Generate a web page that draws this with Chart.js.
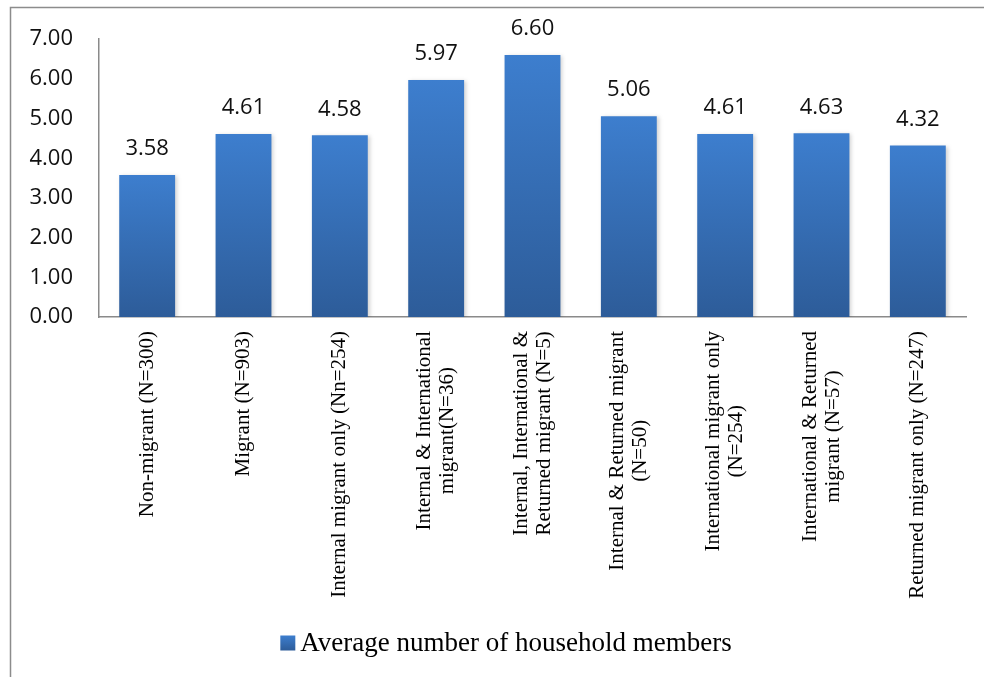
<!DOCTYPE html>
<html>
<head>
<meta charset="utf-8">
<script src="https://cdn.jsdelivr.net/npm/chart.js@4.4.1/dist/chart.umd.min.js"></script>
<style>
  html, body { margin: 0; padding: 0; background: #ffffff; }
  #wrap { width: 984px; height: 677px; }
</style>
</head>
<body>
<div id="wrap"><canvas id="chart" width="984" height="677"></canvas></div>
<script>
// Household size by migration status
const categories = [
  ['Non-migrant (N=300)'],
  ['Migrant (N=903)'],
  ['Internal migrant only (Nn=254)'],
  ['Internal & International', 'migrant(N=36)'],
  ['Internal, International &', 'Returned migrant (N=5)'],
  ['Internal & Returned migrant', '(N=50)'],
  ['International migrant only', '(N=254)'],
  ['International & Returned', 'migrant (N=57)'],
  ['Returned migrant only (N=247)']
];
const averageMembers = [3.58, 4.61, 4.58, 5.97, 6.60, 5.06, 4.61, 4.63, 4.32];
const seriesName = 'Average number of household members';
const yTickValues = [0, 1, 2, 3, 4, 5, 6, 7];

const BAR_TOP = '#3D7ECE';
const BAR_BOTTOM = '#2D5C99';
const AXIS_GREY = '#8A8A8A';

// vertical gradient spanning each bar from its top to the baseline
function barFill(ctx) {
  const chart = ctx.chart;
  const y = chart.scales && chart.scales.y;
  if (!y || ctx.type !== 'data') return BAR_TOP;
  const top = y.getPixelForValue(ctx.raw);
  const base = y.getPixelForValue(0);
  if (!isFinite(top) || !isFinite(base) || top === base) return BAR_TOP;
  const g = chart.ctx.createLinearGradient(0, top, 0, base);
  g.addColorStop(0, BAR_TOP);
  g.addColorStop(1, BAR_BOTTOM);
  return g;
}

const decorations = {
  id: 'decorations',
  beforeDraw(chart) {
    const c = chart.ctx;
    c.save();
    c.strokeStyle = '#8C8C8C';
    c.lineWidth = 1.5;
    c.beginPath();
    c.moveTo(10.5, chart.height);
    c.lineTo(10.5, 7.5);
    c.lineTo(chart.width, 7.5);
    c.stroke();
    c.restore();
  },
  beforeDatasetsDraw(chart) {
    const c = chart.ctx;
    c.save();
    c.shadowColor = 'rgba(0,0,0,0.18)';
    c.shadowBlur = 4;
    c.shadowOffsetX = 2;
    c.shadowOffsetY = 1;
  },
  afterDatasetsDraw(chart) {
    const c = chart.ctx;
    c.restore();
    // value labels above bars
    const meta = chart.getDatasetMeta(0);
    c.save();
    c.font = '22px "Open Sans"';
    c.fillStyle = '#111111';
    c.textAlign = 'center';
    c.textBaseline = 'middle';
    meta.data.forEach((bar, i) => {
      c.fillText(averageMembers[i].toFixed(2), bar.x, bar.y - 26);
    });
    c.restore();
  },
  afterDraw(chart) {
    const c = chart.ctx;
    const xs = chart.scales.x;
    // rotated category labels, lines centred on each other
    c.save();
    c.font = '21px "Liberation Serif"';
    c.fillStyle = '#000000';
    c.textBaseline = 'middle';
    c.textAlign = 'center';
    const lineH = 23;
    const labelTop = xs.top + 14;
    categories.forEach((lines, i) => {
      const x = xs.getPixelForValue(i);
      const maxW = Math.max(...lines.map(l => c.measureText(l).width));
      c.save();
      c.translate(x, labelTop);
      c.rotate(-Math.PI / 2);
      lines.forEach((line, k) => {
        const off = (k - (lines.length - 1) / 2) * lineH;
        c.fillText(line, -maxW / 2, off);
      });
      c.restore();
    });
    c.restore();

    // legend
    c.save();
    c.font = '27px "Liberation Serif"';
    const tw = c.measureText(seriesName).width;
    const box = 15, gap = 5;
    const total = box + gap + tw;
    const cx = 506, cy = 643;
    const bx = cx - total / 2;
    const g = c.createLinearGradient(0, cy - box / 2, 0, cy + box / 2);
    g.addColorStop(0, BAR_TOP);
    g.addColorStop(1, BAR_BOTTOM);
    c.fillStyle = g;
    c.fillRect(bx, cy - box / 2, box, box);
    c.fillStyle = '#000000';
    c.textBaseline = 'middle';
    c.textAlign = 'left';
    c.fillText(seriesName, bx + box + gap, cy + 1);
    c.restore();
  }
};

new Chart(document.getElementById('chart'), {
  type: 'bar',
  data: {
    labels: categories,
    datasets: [{
      label: seriesName,
      data: averageMembers,
      backgroundColor: barFill,
      borderWidth: 0,
      categoryPercentage: 1.0,
      barPercentage: 0.58
    }]
  },
  options: {
    responsive: false,
    animation: false,
    devicePixelRatio: 1,
    layout: { padding: { left: 0, right: 18, top: 37, bottom: 0 } },
    plugins: {
      legend: { display: false },
      tooltip: { enabled: false }
    },
    scales: {
      x: {
        grid: { display: false, drawTicks: false },
        border: { display: true, color: AXIS_GREY, width: 1.5 },
        ticks: { display: false },
        afterFit(scale) { scale.height = 360; }
      },
      y: {
        min: 0,
        max: 7,
        grid: { display: false, drawTicks: false },
        border: { display: true, color: AXIS_GREY, width: 1.5 },
        afterBuildTicks(scale) { scale.ticks = yTickValues.map(v => ({ value: v })); },
        afterFit(scale) { scale.width = 99; },
        ticks: {
          padding: 26,
          color: '#111111',
          font: { family: 'Open Sans', size: 22 },
          callback: v => Number(v).toFixed(2)
        }
      }
    }
  },
  plugins: [decorations]
});
</script>
</body>
</html>
